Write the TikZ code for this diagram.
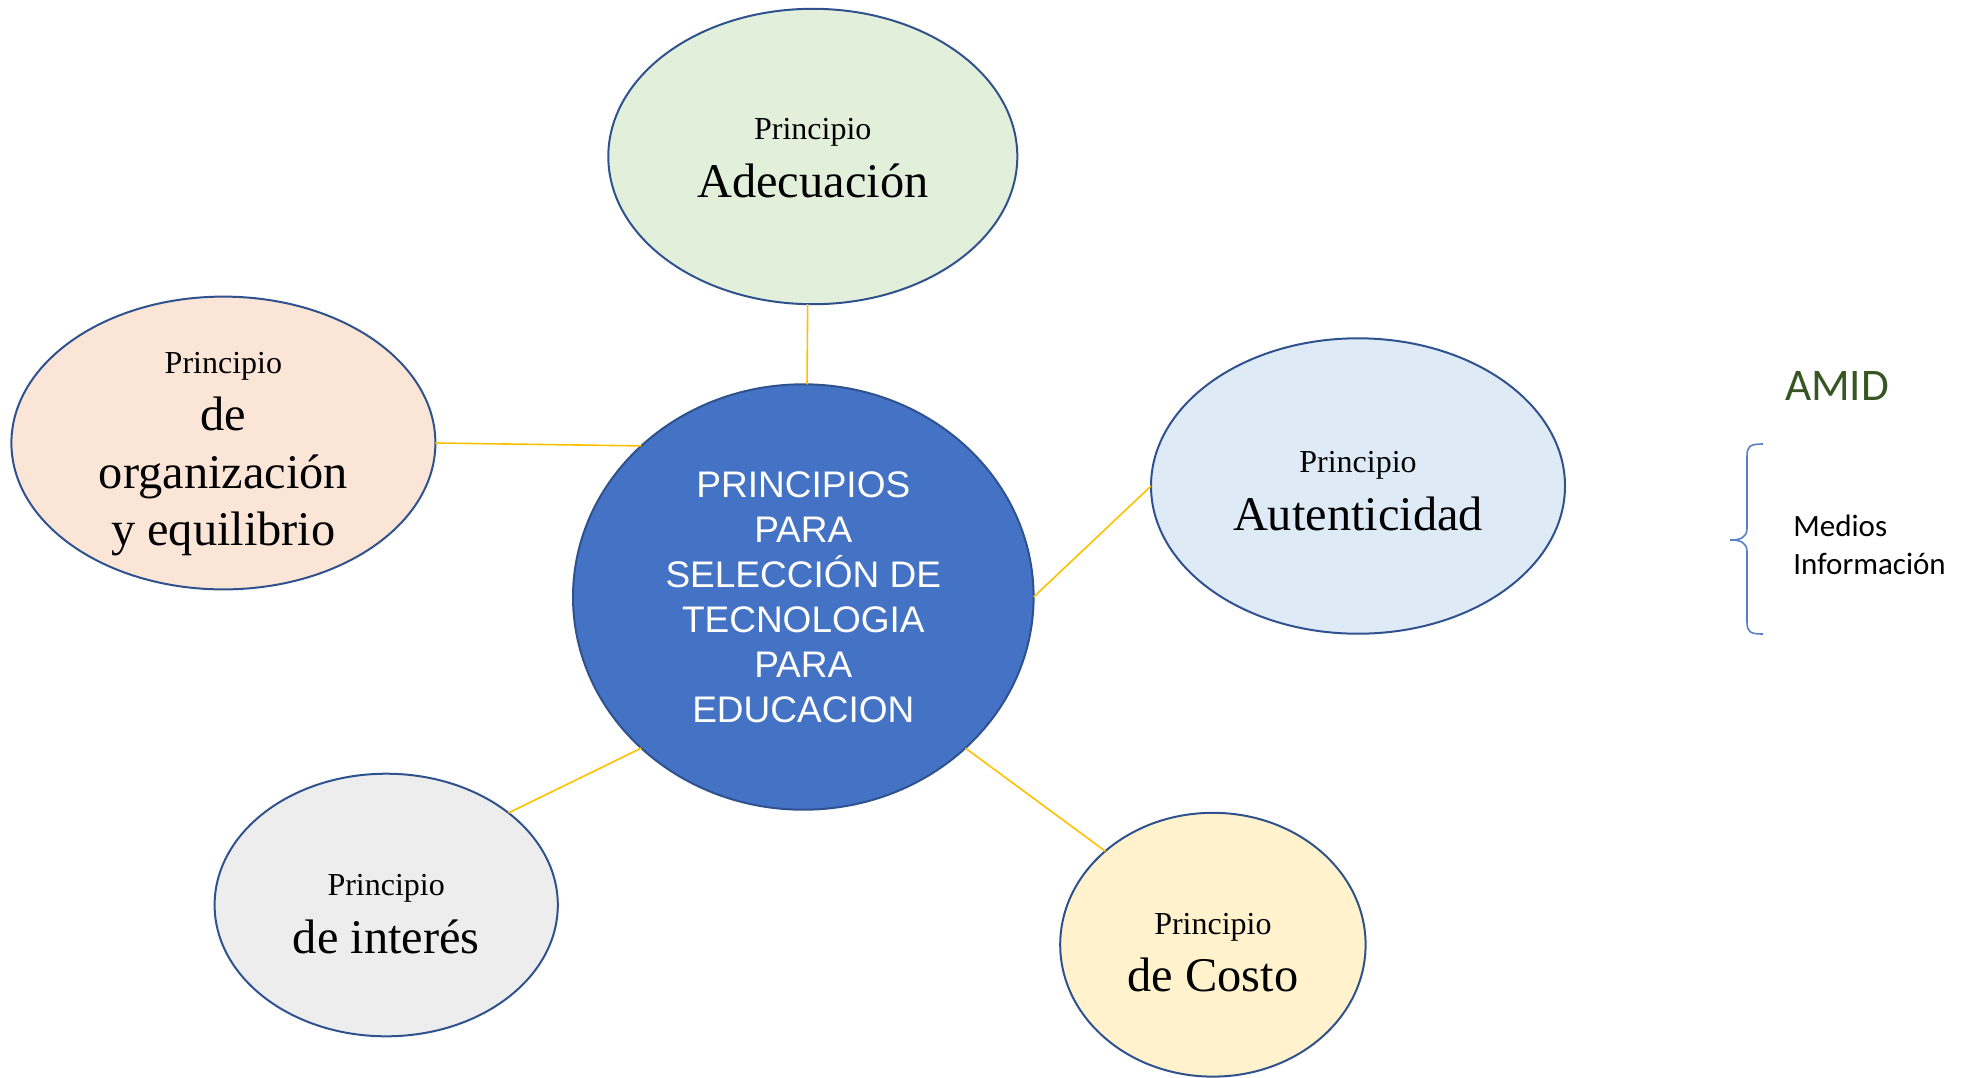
\documentclass[tikz,border=0pt]{standalone}
\usepackage{fontspec}
\setmainfont{Liberation Serif}
\newfontfamily\arialf{Liberation Sans}
\newfontfamily\calib{Carlito}
\usetikzlibrary{shapes.geometric}
\definecolor{edgeblue}{HTML}{2F528F}
\definecolor{linkgold}{HTML}{FFC000}
\definecolor{fillgreen}{HTML}{E2EFDA}
\definecolor{fillorange}{HTML}{FBE5D6}
\definecolor{fillblue}{HTML}{DEEBF7}
\definecolor{fillgray}{HTML}{EDEDED}
\definecolor{fillyellow}{HTML}{FFF2CC}
\definecolor{centerblue}{HTML}{4472C4}
\definecolor{amidgreen}{HTML}{375623}
\newcommand\prinlbl{{\fontsize{16}{19}\selectfont Principio}}
\begin{document}
\begin{tikzpicture}[x=0.5pt,y=-0.5pt,
  bub/.style={ellipse, draw=edgeblue, line width=1pt, inner sep=0pt, outer sep=0pt},
  lbl/.style={inner sep=0pt, align=center, font=\fontsize{24.2}{28.7}\selectfont},
  link/.style={draw=linkgold, line width=0.8pt},
  bracestyle/.style={draw=centerblue!90, line width=0.8pt}]
\useasboundingbox (0,0) rectangle (1979,1077);

\node[bub, fill=fillgreen, minimum width=204.5pt, minimum height=147.7pt] (ad) at (812.8,156.5) {};
\node[lbl] (adT) at (812.8,158) {\prinlbl\\Adecuación};
\node[bub, fill=fillorange, minimum width=212pt, minimum height=146.4pt] (org) at (223.4,443) {};
\node[lbl] (orgT) at (223.4,454) {\prinlbl\\de\\organización\\y equilibrio};
\node[bub, fill=centerblue, text=white, minimum width=230.3pt, minimum height=212.7pt,
  align=center, font=\arialf\fontsize{18.5}{22.5}\selectfont] (c) at (803.3,597)
  {PRINCIPIOS\\PARA\\SELECCIÓN DE\\TECNOLOGIA\\PARA\\EDUCACION};
\node[bub, fill=fillblue, minimum width=207pt, minimum height=147.7pt] (au) at (1358,486) {};
\node[lbl] (auT) at (1358,491) {\prinlbl\\Autenticidad};
\node[bub, fill=fillgray, minimum width=171.6pt, minimum height=131.3pt] (in) at (386.2,905) {};
\node[lbl] (inT) at (386.2,914) {\prinlbl\\de interés};
\node[bub, fill=fillyellow, minimum width=152.7pt, minimum height=131.9pt] (co) at (1212.9,944.7) {};
\node[lbl] (coT) at (1212.9,952.5) {\prinlbl\\de Costo};

\draw[link] (ad.268) -- (c.89);
\draw[link] (org.east) -- (c.137);
\draw[link] (au.west) -- (c.east);
\draw[link] (in.37) -- (c.223);
\draw[link] (co.139) -- (c.317);

\node[anchor=base, inner sep=0pt, text=amidgreen, font=\calib\fontsize{22.6}{26}\selectfont] (amid) at (1837,400) {AMID};
\node[anchor=west, inner sep=0pt, align=left, font=\calib\fontsize{15.5}{19}\selectfont] (medios) at (1793,545) {Medios\\Información};

\coordinate (bt) at (1763,444);
\coordinate (bb) at (1763,634);
\coordinate (bm) at (1730,540);
\draw[bracestyle] (bt) .. controls (1750,444) and (1747,446) .. (1747,456)
  -- (1747,528) .. controls (1747,538) and (1740,540) .. (bm)
  .. controls (1740,540) and (1747,542) .. (1747,552)
  -- (1747,622) .. controls (1747,632) and (1750,634) .. (bb);
\end{tikzpicture}
\end{document}
